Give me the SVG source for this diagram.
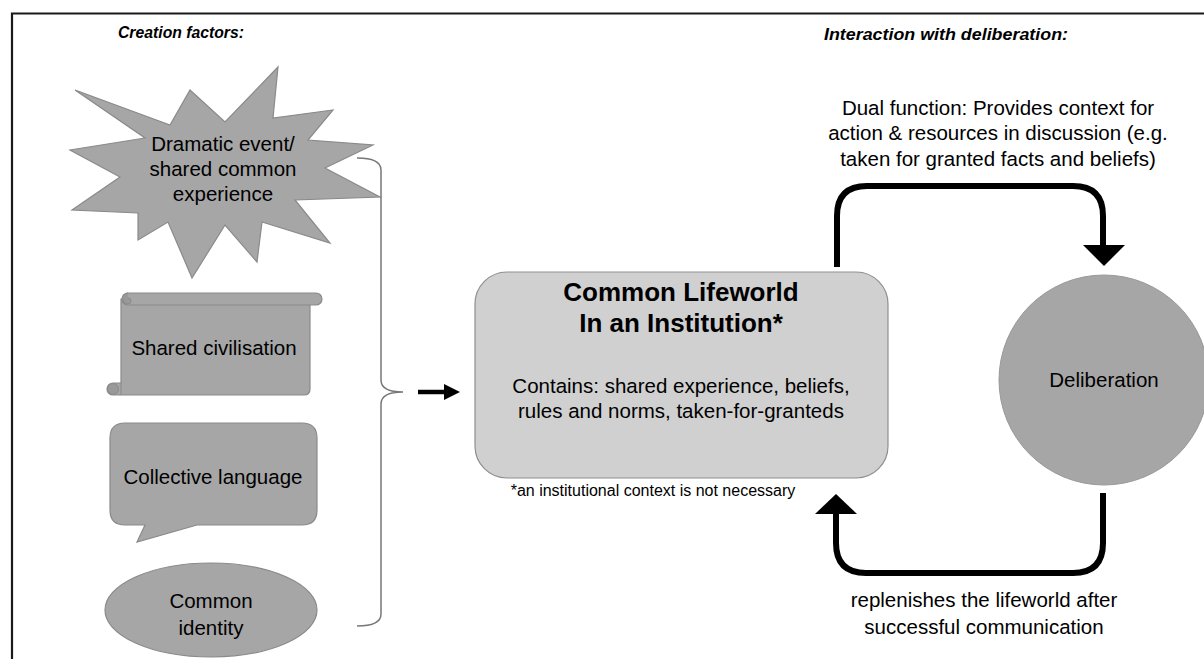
<svg xmlns="http://www.w3.org/2000/svg" width="1204" height="659" viewBox="0 0 1204 659">
<style>
text{font-family:"Liberation Sans",Arial,sans-serif;fill:#000}
.t{font-size:20.5px;text-anchor:middle}
.hd{font-size:17px;font-weight:bold;font-style:italic}
.shape{fill:#a6a6a6;stroke:#8a8a8a;stroke-width:1.2}
.arr{fill:none;stroke:#000;stroke-width:6}
</style>
<rect width="1204" height="659" fill="#fff"/>
<path d="M12,659 V13.5 H1204" fill="none" stroke="#1a1a1a" stroke-width="2.2"/>
<text class="hd" x="118" y="38" textLength="126" lengthAdjust="spacingAndGlyphs">Creation factors:</text>
<text class="hd" x="824" y="40" textLength="244" lengthAdjust="spacingAndGlyphs">Interaction with deliberation:</text>

<g id="dramatic">
<polygon class="shape" points="75,90 170,125 190,90 225,122 278,67 273,118 333,110 308,140 373,145 325,168 380,197 295,200 330,243 262,222 257,262 225,225 192,278 168,222 138,240 138,213 72,210 120,177 70,150 145,138"/>
<text class="t" x="223" y="151">Dramatic event/</text>
<text class="t" x="223" y="176">shared common</text>
<text class="t" x="223" y="201">experience</text>
</g>

<g id="civilisation">
<path class="shape" d="M121,299 H310 V389 Q310,395 304,395 H113 A6,6 0 0 1 107,389 A6,6 0 0 1 113,383 H121 Z"/>
<rect class="shape" x="122" y="293" width="200" height="12" rx="6"/>
<path d="M128,293 A5,5 0 0 0 128,304 A3,3 0 0 0 128,298" fill="#999" stroke="#8a8a8a" stroke-width="1"/>
<circle cx="113" cy="389" r="5.5" fill="#999" stroke="#8a8a8a" stroke-width="1"/>
<line x1="121" y1="383" x2="121" y2="395" stroke="#8a8a8a" stroke-width="1"/>
<text class="t" x="214" y="355">Shared civilisation</text>
</g>

<g id="language">
<path class="shape" d="M125,423 H302 Q317,423 317,438 V510 Q317,525 302,525 H197 L137,542 L145,525 H125 Q110,525 110,510 V438 Q110,423 125,423 Z"/>
<text class="t" x="213" y="484">Collective language</text>
</g>

<g id="identity">
<ellipse class="shape" cx="211" cy="610" rx="106" ry="47"/>
<text class="t" x="211" y="608">Common</text>
<text class="t" x="211" y="635">identity</text>
</g>

<g id="lifeworld">
<rect x="475" y="272" width="413" height="206" rx="32" fill="#d0d0d0" stroke="#8f8f8f" stroke-width="1.2"/>
<text x="681" y="301" font-size="26px" font-weight="bold" text-anchor="middle">Common Lifeworld</text>
<text x="681" y="332" font-size="26px" font-weight="bold" text-anchor="middle">In an Institution*</text>
<text class="t" x="681" y="393">Contains: shared experience, beliefs,</text>
<text class="t" x="681" y="418">rules and norms, taken-for-granteds</text>
<text x="653" y="496" font-size="16px" text-anchor="middle">*an institutional context is not necessary</text>
</g>

<g id="deliberation">
<circle cx="1104" cy="380" r="105" fill="#a6a6a6" stroke="#999" stroke-width="1"/>
<text class="t" x="1104" y="387">Deliberation</text>
</g>

<g id="connectors">
<path d="M357,158 Q381,158 381,170 V380 Q381,392 403,392 Q381,392 381,404 V614 Q381,626 357,626" fill="none" stroke="#777" stroke-width="1.5"/>
<line x1="418" y1="392" x2="446" y2="392" stroke="#000" stroke-width="4.5"/>
<polygon points="444,384 460,392 444,400" fill="#000"/>
<path class="arr" d="M837,267 V216 Q837,186 867,186 H1073 Q1103,186 1103,216 V246"/>
<polygon points="1083,245 1125,245 1104,266" fill="#000"/>
<path class="arr" d="M1103,493 V543 Q1103,573 1073,573 H866 Q836,573 836,543 V513"/>
<polygon points="815,514 857,514 836,494" fill="#000"/>
</g>

<g id="labels">
<text class="t" x="998" y="115">Dual function: Provides context for</text>
<text class="t" x="998" y="140">action &amp; resources in discussion (e.g.</text>
<text class="t" x="998" y="166">taken for granted facts and beliefs)</text>
<text class="t" x="984" y="607">replenishes the lifeworld after</text>
<text class="t" x="984" y="634">successful communication</text>
</g>
</svg>
